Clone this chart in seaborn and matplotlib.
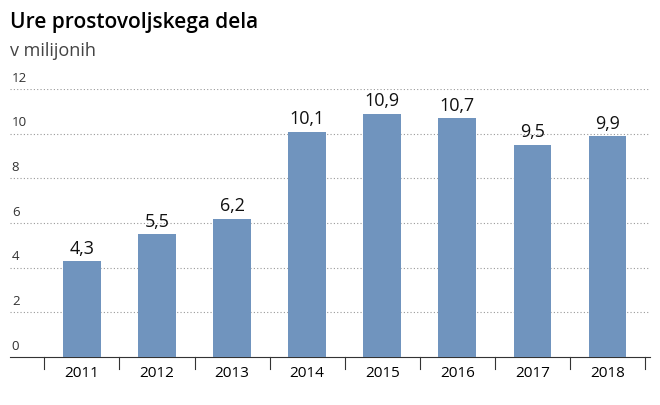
import matplotlib
matplotlib.use("Agg")
import matplotlib.pyplot as plt
import matplotlib.transforms as mtrans
import seaborn as sns
import pandas as pd

years = ["2011", "2012", "2013", "2014", "2015", "2016", "2017", "2018"]
values = [4.3, 5.5, 6.2, 10.1, 10.9, 10.7, 9.5, 9.9]
labels = ["4,3", "5,5", "6,2", "10,1", "10,9", "10,7", "9,5", "9,9"]
yticks = [0, 2, 4, 6, 8, 10, 12]

plt.rcParams["font.family"] = "Open Sans"
df = pd.DataFrame({"year": years, "value": values})
fig = plt.figure(figsize=(6.6, 4.06), dpi=100)
ax = fig.add_axes([0.015, 0.118, 0.97, 0.66])
sns.barplot(data=df, x="year", y="value", color="#7094be", saturation=1, width=0.5, ax=ax, zorder=3)
ax.set_xlim(-0.96, 7.57)
ax.set_ylim(0, 12)
for s in ["top", "right", "left"]:
    ax.spines[s].set_visible(False)
ax.spines["bottom"].set_color("#333333")
ax.set_yticks([])
ax.set_xlabel(""); ax.set_ylabel("")
tr = mtrans.blended_transform_factory(ax.transAxes, ax.transData)
for t in yticks:
    if t > 0:
        ax.axhline(t, color="#999999", lw=0.8, ls=(0, (1, 2)), zorder=1)
    ax.text(0.003, t + 0.25, str(t), transform=tr, fontsize=9.5, color="#333333", va="bottom", ha="left")
ax.set_xticks(range(len(years)))
ax.set_xticklabels(years, fontsize=11)
ax.tick_params(axis="x", length=0, pad=6)
for b in [i - 0.5 for i in range(len(years) + 1)]:
    ax.plot([b, b], [0, -0.55], color="#333333", lw=0.8, clip_on=False)
for i, (v, l) in enumerate(zip(values, labels)):
    ax.text(i, v + 0.2, l, ha="center", va="bottom", fontsize=13, color="#111111")
fig.text(0.015, 0.945, "Ure prostovoljskega dela", fontsize=15, fontweight="semibold", va="center")
fig.text(0.015, 0.875, "v milijonih", fontsize=13, color="#444444", va="center")
fig.savefig("out.png", dpi=100)
